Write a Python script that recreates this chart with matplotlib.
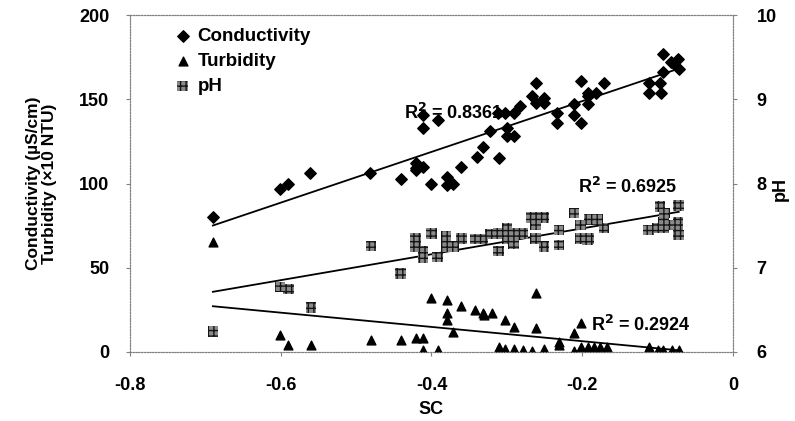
import numpy as np
import matplotlib
matplotlib.use("Agg")
import matplotlib.pyplot as plt

plt.rcParams['font.family'] = ['Liberation Sans', 'DejaVu Sans']
plt.rcParams['font.weight'] = 'bold'

# conductivity (uS/cm) against SC
cond_sc = [-0.690, -0.601, -0.590, -0.561, -0.481, -0.441, -0.421, -0.421, -0.421,
           -0.411, -0.411, -0.411, -0.392, -0.400, -0.380, -0.380, -0.372, -0.361,
           -0.340, -0.331, -0.311, -0.322, -0.312, -0.302, -0.291, -0.300, -0.300,
           -0.291, -0.282, -0.266, -0.262, -0.262, -0.251, -0.251, -0.233, -0.233,
           -0.211, -0.211, -0.202, -0.202, -0.193, -0.193, -0.182, -0.171, -0.193,
           -0.112, -0.112, -0.097, -0.096, -0.093, -0.093, -0.082, -0.073, -0.072,
           -0.078]
cond = [80, 97, 100, 106, 106, 103, 109, 112, 108,
        110, 141, 133, 138, 100, 104, 99, 100, 110,
        116, 122, 115, 131, 142, 142, 142, 133, 128,
        128, 146, 152, 160, 148, 151, 148, 142, 136,
        147, 141, 136, 161, 152, 154, 154, 160, 147,
        160, 154, 160, 154, 177, 166, 172, 174, 168,
        171]

# turbidity (x10 NTU) against SC
turb_sc = [-0.690, -0.601, -0.590, -0.560, -0.480, -0.441, -0.421, -0.411, -0.411,
           -0.391, -0.400, -0.380, -0.380, -0.380, -0.371, -0.361, -0.342, -0.331,
           -0.330, -0.320, -0.302, -0.291, -0.311, -0.311, -0.302, -0.291, -0.279,
           -0.266, -0.251, -0.262, -0.262, -0.231, -0.231, -0.211, -0.211, -0.202,
           -0.202, -0.193, -0.185, -0.176, -0.167, -0.112, -0.100, -0.093, -0.081,
           -0.072]
turb = [65, 10, 4, 4, 7, 7, 8, 8, 1,
        1, 32, 31, 23, 19, 12, 27, 25, 23,
        22, 23, 19, 15, 3, 0.6, 1.5, 1.5, 1,
        0.6, 1.5, 35, 14, 4, 6, 11, 0.6, 17,
        3, 3, 3, 3, 3, 3, 1, 1, 1,
        1]

# pH against SC
ph_sc = [-0.690, -0.601, -0.590, -0.560, -0.480, -0.441, -0.421, -0.421, -0.411,
         -0.411, -0.400, -0.392, -0.381, -0.381, -0.371, -0.360, -0.342, -0.332,
         -0.322, -0.311, -0.311, -0.300, -0.300, -0.291, -0.291, -0.279, -0.268,
         -0.259, -0.251, -0.262, -0.262, -0.251, -0.231, -0.231, -0.211, -0.202,
         -0.202, -0.191, -0.191, -0.179, -0.171, -0.193, -0.112, -0.097, -0.091,
         -0.092, -0.092, -0.072, -0.073, -0.073, -0.072, -0.085, -0.100]
ph = [6.24, 6.77, 6.75, 6.53, 7.26, 6.93, 7.35, 7.25, 7.19,
      7.12, 7.41, 7.13, 7.37, 7.25, 7.25, 7.35, 7.34, 7.34,
      7.40, 7.20, 7.41, 7.47, 7.35, 7.41, 7.29, 7.41, 7.60,
      7.60, 7.60, 7.51, 7.35, 7.25, 7.45, 7.27, 7.65, 7.51,
      7.35, 7.57, 7.35, 7.57, 7.47, 7.33, 7.45, 7.73, 7.65,
      7.54, 7.47, 7.74, 7.54, 7.47, 7.39, 7.51, 7.47]

r2_text = ['R$^2$ = 0.8361', 'R$^2$ = 0.6925', 'R$^2$ = 0.2924']

FS = 13


def trend(ax, x, y):
    k, b = np.polyfit(x, y, 1)
    xs = np.array([min(x), max(x)])
    ax.plot(xs, k * xs + b, color='black', lw=1.3, zorder=2)


fig = plt.figure(figsize=(7.95, 4.21), dpi=100)
ax = fig.add_axes([0.1635, 0.164, 0.7585, 0.8])
ax2 = ax.twinx()

h1 = ax.scatter(cond_sc, cond, marker='D', s=34, color='black', zorder=3, label='Conductivity')
h2 = ax.scatter(turb_sc, turb, marker='^', s=40, color='black', zorder=3, label='Turbidity')
h3 = ax2.scatter(ph_sc, ph, marker='s', s=58, facecolor='#8a8a8a', edgecolor='#151515',
                 hatch='+++', linewidths=0, zorder=3, label='pH')
trend(ax, cond_sc, cond)
trend(ax, turb_sc, turb)
trend(ax2, ph_sc, ph)

ax.set_xlim(-0.8, 0)
ax.set_ylim(0, 200)
ax2.set_ylim(6, 10)
ax.set_xticks([-0.8, -0.6, -0.4, -0.2, 0])
ax.set_xticklabels(['-0.8', '-0.6', '-0.4', '-0.2', '0'])
ax.set_yticks([0, 50, 100, 150, 200])
ax2.set_yticks([6, 7, 8, 9, 10])

for a in (ax, ax2):
    for sp in a.spines.values():
        sp.set_linestyle((0, (1, 1.5)))
        sp.set_color('#808080')
        sp.set_linewidth(0.8)
ax.tick_params(axis='both', labelsize=FS, length=3, color='#808080')
ax.tick_params(axis='x', pad=15)
ax.tick_params(axis='y', pad=12)
ax2.tick_params(axis='y', labelsize=FS, length=3, color='#808080', pad=14)

ax.set_xlabel('SC', fontsize=FS, fontweight='bold', labelpad=5)
ax.set_ylabel('Conductivity (µS/cm)\nTurbidity (×10 NTU)', fontsize=12.5,
              fontweight='bold', labelpad=16, linespacing=1.05)
# right-hand axis title
fig.text(0.982, 0.55, 'pH', fontsize=FS, fontweight='bold', rotation=90,
         ha='center', va='center')

ax.text(-0.437, 142, r2_text[0], fontsize=FS, fontweight='bold', va='center')
ax.text(-0.205, 98, r2_text[1], fontsize=FS, fontweight='bold', va='center')
ax.text(-0.188, 16, r2_text[2], fontsize=FS, fontweight='bold', va='center')

ax.legend(handles=[h1, h2, h3], loc='upper left', bbox_to_anchor=(0.05, 1.012),
          frameon=False, handlelength=0.6, handletextpad=0.5,
          labelspacing=0.42, prop={'weight': 'bold', 'size': 13.5})

fig.savefig('out.png', dpi=100)
